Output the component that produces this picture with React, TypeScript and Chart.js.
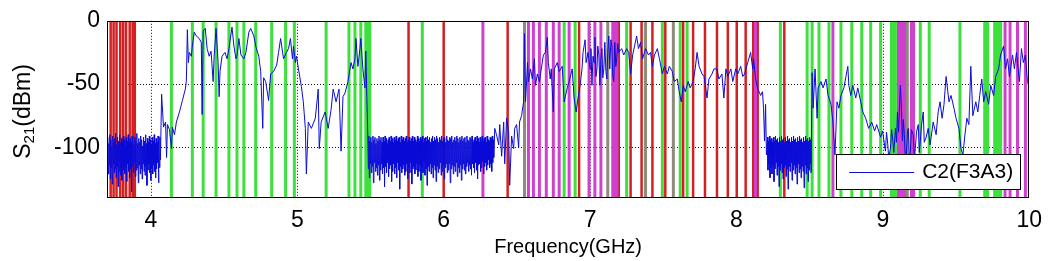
import React, { useEffect, useRef } from 'react';
import { Chart, registerables } from 'chart.js';

Chart.register(...registerables);

// ---- axes ----
const xMin = 3.7;
const xMax = 10;
const yMin = -140;
const yMax = 0;
const xTicks = [4, 5, 6, 7, 8, 9, 10];
const yTicks = [0, -50, -100];
const xTitle = 'Frequency(GHz)';
const yTitleMain = 'S';
const yTitleSub = '21';
const yTitleUnit = '(dBm)';
const traceLabel = 'C2(F3A3)';

// ---- vertical marker lines (GHz) ----
const redMarkers = [3.725, 3.745, 3.765, 3.79, 3.81, 3.83, 3.855, 3.875, 3.89, 5.76, 6.0, 6.437, 6.925, 7.196, 7.277, 7.352, 7.426, 7.514, 7.636, 7.704, 7.785, 7.867, 7.941, 8.002, 8.063, 8.115, 8.145, 8.327];
const greenMarkers = [4.14, 4.283, 4.357, 4.445, 4.533, 4.588, 4.635, 4.716, 4.825, 4.92, 4.98, 5.197, 5.353, 5.394, 5.434, 5.468, 5.482, 5.495, 5.854, 6.823, 6.898, 7.25, 7.494, 7.616, 7.663, 8.3, 8.483, 8.517, 8.564, 8.632, 8.714, 8.788, 8.856, 8.917, 8.985, 9.059, 9.073, 9.086, 9.256, 9.317, 9.527, 9.696, 9.716, 9.764, 9.778, 9.791, 9.805];
const magentaMarkers = [6.268, 6.579, 6.613, 6.654, 6.701, 6.749, 6.789, 6.857, 6.993, 7.033, 7.074, 7.155, 7.169, 7.183, 8.13, 8.659, 9.107, 9.12, 9.134, 9.148, 9.195, 9.21, 9.835, 9.869, 9.92, 9.974];
const grayMarkers = [6.552, 7.121, 7.379, 7.569, 9.167];

// ---- measured trace: noise floor bands (uniform sweep) ----
const noiseAStart = 3.70;
const noiseAEnd = 4.065;
const noiseALevels = [
  -95, -118, -92, -121, -97, -114, -90, -125, -94, -116, -99, -129, -91, -113, -96, -120, -93, -117, -89, -124,
  -98, -115, -92, -131, -95, -119, -90, -112, -97, -122, -93, -126, -96, -114, -91, -118, -94, -121, -99, -116,
  -92, -127, -95, -113, -90, -119, -97, -124, -93, -117, -96, -135, -91, -115, -94, -120, -98, -112, -92, -123,
  -95, -118, -89, -116, -97, -128, -93, -114, -96, -121, -91, -117, -94, -125, -99, -113, -92, -119, -95, -122,
  -90, -115, -97, -130, -93, -118, -96, -113, -91, -120, -94, -126, -98, -116, -92, -121, -95, -114, -90, -119,
  -97, -124, -93, -117, -96, -112, -91, -128, -94, -116, -92, -110,
];

const noiseBStart = 5.482;
const noiseBEnd = 6.342;
const noiseBLevels = [
  -93, -117, -91, -124, -95, -113, -92, -120, -96, -115,
  -91, -128, -94, -112, -92, -119, -97, -116, -93, -122,
  -95, -114, -91, -126, -94, -118, -92, -113, -96, -121,
  -92, -116, -95, -131, -91, -115, -93, -120, -97, -112,
  -94, -123, -92, -117, -95, -114, -91, -127, -93, -119,
  -96, -113, -92, -121, -94, -116, -91, -124, -95, -112,
  -93, -118, -92, -133, -96, -115, -91, -120, -94, -117,
  -92, -114, -95, -122, -93, -119, -91, -113, -96, -125,
  -94, -116, -92, -120, -95, -112, -93, -129, -91, -117,
  -95, -115, -92, -121, -94, -118, -96, -113, -91, -123,
  -93, -119, -95, -114, -92, -126, -94, -116, -91, -120,
  -96, -112, -93, -122, -92, -117, -95, -130, -91, -115,
  -94, -119, -92, -113, -96, -121, -93, -116, -91, -124,
  -95, -114, -92, -118, -94, -127, -91, -115, -93, -120,
  -96, -117, -92, -112, -94, -122, -91, -119, -95, -114,
  -93, -125, -92, -116, -96, -113, -91, -120, -94, -118,
  -95, -113, -92, -128, -93, -117, -91, -114, -96, -121,
  -94, -115, -92, -119, -95, -112, -91, -123, -93, -116,
  -96, -120, -92, -114, -94, -126, -91, -117, -95, -113,
  -93, -118, -92, -121, -96, -115, -91, -112, -94, -119,
  -95, -114, -92, -117, -93, -122, -91, -113, -96, -116,
  -94, -120, -92, -112, -95, -118, -91, -125, -93, -114,
  -96, -113, -92, -119, -94, -116, -91, -111, -95, -121,
  -93, -115, -92, -112, -96, -118, -91, -114, -94, -110,
  -95, -116, -92, -113, -93, -119, -91, -112, -94, -108,
];

const noiseCStart = 8.212;
const noiseCEnd = 8.51;
const noiseCLevels = [
  -92, -118, -95, -113, -91, -124, -94, -116, -93, -121,
  -96, -114, -92, -127, -95, -117, -91, -112, -94, -122,
  -93, -115, -96, -131, -92, -118, -95, -113, -91, -120,
  -94, -125, -93, -116, -96, -114, -92, -123, -95, -117,
  -91, -133, -94, -115, -93, -119, -96, -112, -92, -126,
  -95, -118, -91, -114, -94, -121, -93, -116, -96, -129,
  -92, -113, -95, -120, -91, -117, -94, -124, -93, -115,
  -96, -119, -92, -132, -95, -114, -91, -121, -94, -116,
  -93, -127, -95, -118, -92, -113, -94, -120,
];

// ---- measured trace: resolved segments [GHz, dBm] ----
const segment1: [number, number][] = [
  [4.073, -58], [4.086, -84], [4.1, -80], [4.107, -108], [4.113, -82], [4.127, -86], [4.14, -101], [4.147, -84],
  [4.161, -90], [4.174, -80], [4.195, -72], [4.215, -63], [4.235, -54], [4.242, -48], [4.249, -7], [4.256, -33],
  [4.262, -25], [4.276, -28], [4.283, -20], [4.296, -9], [4.31, -12], [4.33, -14], [4.344, -17], [4.35, -74],
  [4.357, -8], [4.371, -6], [4.384, -22], [4.398, -28], [4.411, -24], [4.425, -48], [4.432, -28], [4.445, -6],
  [4.459, -33], [4.466, -60], [4.472, -40], [4.486, -28], [4.506, -25], [4.52, -30], [4.533, -22], [4.554, -5],
  [4.567, -20], [4.581, -30], [4.588, -28], [4.601, -14], [4.615, -27], [4.635, -30], [4.649, -25], [4.669, -9],
  [4.682, -6], [4.689, -8], [4.703, -12], [4.716, -20], [4.737, -28], [4.75, -40], [4.764, -85], [4.77, -45],
  [4.784, -48], [4.804, -63], [4.818, -42], [4.838, -40], [4.859, -35], [4.872, -25], [4.886, -14], [4.906, -30],
  [4.926, -25], [4.94, -22], [4.953, -14], [4.967, -30], [4.974, -20], [4.987, -33], [4.994, -28], [5.008, -38],
  [5.028, -52], [5.041, -64], [5.055, -85], [5.062, -121], [5.075, -80], [5.096, -85], [5.123, -77], [5.143, -54],
  [5.15, -101], [5.163, -80], [5.19, -72], [5.211, -85], [5.231, -70], [5.245, -54], [5.265, -64], [5.285, -54],
  [5.299, -103], [5.312, -60], [5.326, -57], [5.346, -48], [5.367, -33], [5.38, -38], [5.394, -30], [5.401, -14],
  [5.414, -36], [5.428, -22], [5.434, -14], [5.448, -38], [5.462, -53], [5.468, -24], [5.475, -60],
];

const segment2: [number, number][] = [
  [6.349, -85], [6.363, -91], [6.376, -98], [6.383, -82], [6.396, -107], [6.41, -80], [6.417, -113], [6.43, -77],
  [6.444, -88], [6.451, -130], [6.464, -91], [6.478, -101], [6.485, -85], [6.498, -82], [6.512, -100], [6.518, -80],
  [6.532, -75], [6.546, -64], [6.552, -10], [6.559, -64], [6.573, -33], [6.579, -48], [6.593, -38], [6.606, -46],
  [6.62, -30], [6.627, -51], [6.64, -42], [6.654, -48], [6.667, -38], [6.681, -27], [6.695, -25], [6.708, -13],
  [6.715, -33], [6.728, -46], [6.735, -38], [6.749, -72], [6.756, -38], [6.776, -33], [6.789, -40], [6.81, -36],
  [6.823, -64], [6.844, -53], [6.857, -48], [6.878, -38], [6.891, -61], [6.905, -72], [6.918, -61], [6.932, -51],
  [6.945, -38], [6.952, -25], [6.966, -15], [6.973, -33], [6.986, -25],
  [7.0, -38], [7.006, -22], [7.013, -51], [7.02, -28], [7.027, -33], [7.033, -13], [7.04, -44], [7.047, -38],
  [7.053, -20], [7.06, -27], [7.067, -51], [7.074, -30], [7.081, -22], [7.087, -45], [7.094, -38], [7.101, -17],
  [7.108, -40], [7.115, -46], [7.121, -25], [7.128, -12], [7.135, -38], [7.142, -15], [7.149, -20], [7.155, -44],
  [7.162, -48], [7.169, -17], [7.176, -36], [7.182, -30], [7.189, -18], [7.196, -25],
  [7.216, -22], [7.23, -27], [7.25, -22], [7.264, -25], [7.277, -42], [7.291, -27], [7.304, -20], [7.318, -12],
  [7.331, -22], [7.345, -17], [7.359, -30], [7.379, -22], [7.399, -27], [7.413, -25], [7.426, -36], [7.44, -27],
  [7.46, -22], [7.474, -30], [7.494, -42], [7.508, -36], [7.528, -42], [7.541, -36], [7.562, -40], [7.575, -48],
  [7.596, -46], [7.609, -56], [7.623, -64], [7.636, -51], [7.65, -56], [7.67, -48], [7.684, -53], [7.704, -48],
  [7.718, -38], [7.731, -25], [7.745, -36], [7.765, -42], [7.779, -44], [7.799, -61], [7.812, -46], [7.833, -42],
  [7.846, -38], [7.867, -38], [7.88, -46], [7.901, -42], [7.914, -61], [7.928, -38], [7.941, -44], [7.962, -38],
  [7.975, -48], [7.995, -38], [8.009, -42], [8.029, -36], [8.043, -44], [8.056, -42], [8.077, -33], [8.097, -25],
  [8.111, -38], [8.117, -30], [8.131, -46], [8.144, -53], [8.165, -59], [8.178, -56], [8.185, -69], [8.192, -95],
  [8.199, -66], [8.205, -106],
];

const segment3: [number, number][] = [
  [8.517, -41], [8.524, -69], [8.537, -38], [8.551, -77], [8.558, -53], [8.578, -48], [8.592, -53], [8.612, -46],
  [8.626, -59], [8.646, -66], [8.659, -80], [8.673, -106], [8.687, -64], [8.7, -69], [8.714, -59], [8.734, -53],
  [8.748, -44], [8.761, -36], [8.768, -51], [8.781, -59], [8.795, -51], [8.815, -61], [8.829, -53], [8.849, -64],
  [8.863, -72], [8.883, -77], [8.903, -85], [8.924, -80], [8.944, -87], [8.958, -82], [8.985, -92], [8.998, -87],
  [9.018, -103], [9.025, -88], [9.032, -95], [9.04, -108], [9.052, -101], [9.06, -86], [9.066, -92], [9.075, -104],
  [9.086, -85], [9.093, -96], [9.1, -72], [9.107, -88], [9.12, -51], [9.127, -69], [9.134, -95], [9.14, -78],
  [9.147, -90], [9.154, -110], [9.161, -106], [9.168, -88], [9.174, -85], [9.181, -108], [9.188, -103], [9.195, -86],
  [9.208, -90], [9.215, -110], [9.222, -101], [9.23, -88], [9.242, -82], [9.249, -104], [9.256, -95], [9.263, -84],
  [9.276, -72], [9.283, -96], [9.296, -92], [9.31, -85], [9.323, -98], [9.344, -80], [9.364, -90], [9.378, -72],
  [9.391, -64], [9.405, -77], [9.418, -66], [9.432, -44], [9.452, -64], [9.466, -59], [9.486, -69], [9.5, -77],
  [9.52, -85], [9.534, -101], [9.547, -106], [9.561, -90], [9.574, -77], [9.588, -82], [9.601, -36], [9.615, -75],
  [9.635, -64], [9.649, -72], [9.662, -59], [9.676, -46], [9.689, -64], [9.703, -56], [9.723, -66], [9.737, -51],
  [9.757, -59], [9.771, -44], [9.791, -38], [9.804, -27], [9.825, -20], [9.838, -38], [9.852, -30], [9.865, -44],
  [9.886, -27], [9.899, -38], [9.913, -25], [9.933, -48], [9.947, -22], [9.96, -33], [9.974, -27], [9.988, -48],
  [10.0, -53],
];

// ---- colours ----
const traceColor = 'rgb(12,12,215)';
const redColor = '#d42020';
const greenColor = '#3ee03e';
const magentaColor = '#d040d0';
const grayColor = '#8c8c7c';
const fontFamily = 'Arial, "Liberation Sans", Helvetica, sans-serif';

type Pt = { x: number; y: number | null };

function sweep(from: number, to: number, levels: number[]): Pt[] {
  return levels.map((y, i) => ({ x: from + ((to - from) * i) / (levels.length - 1), y }));
}
function pairs(seg: [number, number][]): Pt[] {
  return seg.map(([x, y]) => ({ x, y }));
}
function markers(freqs: number[]): Pt[] {
  const out: Pt[] = [];
  for (const f of freqs) {
    out.push({ x: f, y: yMin }, { x: f, y: yMax }, { x: f, y: null });
  }
  return out;
}

const tracePoints: Pt[] = [
  ...sweep(noiseAStart, noiseAEnd, noiseALevels),
  ...pairs(segment1),
  ...sweep(noiseBStart, noiseBEnd, noiseBLevels),
  ...pairs(segment2),
  ...sweep(noiseCStart, noiseCEnd, noiseCLevels),
  ...pairs(segment3),
];

const framePlugin = {
  id: 'matlabFrame',
  beforeDatasetsDraw(chart: any) {
    const { ctx, chartArea: a, scales } = chart;
    ctx.save();
    ctx.strokeStyle = '#111';
    ctx.lineWidth = 1;
    ctx.setLineDash([1, 2]);
    for (const v of xTicks) {
      const px = Math.round(scales.x.getPixelForValue(v)) + 0.5;
      if (px <= a.left + 1 || px >= a.right - 1) continue;
      ctx.beginPath();
      ctx.moveTo(px, a.top);
      ctx.lineTo(px, a.bottom);
      ctx.stroke();
    }
    for (const v of yTicks) {
      const py = Math.round(scales.y.getPixelForValue(v)) + 0.5;
      if (py <= a.top + 1 || py >= a.bottom - 1) continue;
      ctx.beginPath();
      ctx.moveTo(a.left, py);
      ctx.lineTo(a.right, py);
      ctx.stroke();
    }
    ctx.restore();
  },
  afterDatasetsDraw(chart: any) {
    const { ctx, chartArea: a } = chart;
    ctx.save();
    // legend box
    const w = 184;
    const h = 35;
    const x0 = a.right - 9 - w;
    const y0 = a.bottom - 9 - h;
    ctx.fillStyle = '#fff';
    ctx.fillRect(x0, y0, w, h);
    ctx.strokeStyle = '#000';
    ctx.lineWidth = 1;
    ctx.setLineDash([]);
    ctx.strokeRect(Math.round(x0) + 0.5, Math.round(y0) + 0.5, w, h);
    const ds = chart.data.datasets[0];
    const ly = Math.round(y0 + h / 2) + 0.5;
    ctx.strokeStyle = ds.borderColor;
    ctx.beginPath();
    ctx.moveTo(x0 + 13, ly);
    ctx.lineTo(x0 + 78, ly);
    ctx.stroke();
    ctx.fillStyle = '#000';
    ctx.font = `21px ${fontFamily}`;
    ctx.textBaseline = 'middle';
    ctx.textAlign = 'left';
    ctx.fillText(ds.label, x0 + 86, y0 + h / 2 + 1);
    // axes box
    ctx.strokeStyle = '#000';
    ctx.strokeRect(Math.round(a.left) + 0.5, Math.round(a.top) + 0.5, Math.round(a.right - a.left) - 1, Math.round(a.bottom - a.top) - 1);
    ctx.restore();
  },
  afterDraw(chart: any) {
    const { ctx, chartArea: a } = chart;
    ctx.save();
    const cy = (a.top + a.bottom) / 2 + 2;
    ctx.translate(30, cy);
    ctx.rotate(-Math.PI / 2);
    ctx.fillStyle = '#000';
    ctx.textBaseline = 'alphabetic';
    ctx.textAlign = 'left';
    const mainFont = `23px ${fontFamily}`;
    const subFont = `15px ${fontFamily}`;
    ctx.font = mainFont;
    const wS = ctx.measureText(yTitleMain).width;
    const wU = ctx.measureText(yTitleUnit).width;
    ctx.font = subFont;
    const wSub = ctx.measureText(yTitleSub).width;
    const total = wS + wSub + wU;
    let x = -total / 2;
    ctx.font = mainFont;
    ctx.fillText(yTitleMain, x, 0);
    x += wS;
    ctx.font = subFont;
    ctx.fillText(yTitleSub, x, 4);
    x += wSub;
    ctx.font = mainFont;
    ctx.fillText(yTitleUnit, x, 0);
    ctx.restore();
  },
};

export default function App() {
  const canvasRef = useRef<HTMLCanvasElement | null>(null);

  useEffect(() => {
    const canvas = canvasRef.current;
    if (!canvas) return;
    const markerSet = (label: string, freqs: number[], color: string, width: number, order: number) => ({
      label,
      data: markers(freqs),
      borderColor: color,
      backgroundColor: color,
      borderWidth: width,
      borderCapStyle: 'butt' as const,
      pointRadius: 0,
      spanGaps: false,
      fill: false,
      order,
    });
    const chart = new Chart(canvas, {
      type: 'line',
      data: {
        datasets: [
          {
            label: traceLabel,
            data: tracePoints as any,
            borderColor: traceColor,
            backgroundColor: traceColor,
            borderWidth: 1,
            pointRadius: 0,
            tension: 0,
            fill: false,
            order: 0,
          },
          markerSet('gray', grayMarkers, grayColor, 3, 4),
          markerSet('red', redMarkers, redColor, 2.5, 3),
          markerSet('green', greenMarkers, greenColor, 3, 2),
          markerSet('magenta', magentaMarkers, magentaColor, 3, 1),
        ] as any,
      },
      options: {
        responsive: false,
        animation: false,
        devicePixelRatio: 1,
        events: [],
        layout: { padding: { top: 18, right: 14, left: 0, bottom: 0 } },
        plugins: {
          legend: { display: false },
          tooltip: { enabled: false },
          title: { display: false },
        },
        scales: {
          x: {
            type: 'linear',
            min: xMin,
            max: xMax,
            afterBuildTicks: (scale: any) => {
              scale.ticks = xTicks.map((value) => ({ value }));
            },
            afterFit: (scale: any) => {
              scale.height = 63;
            },
            grid: { display: false, drawTicks: false },
            border: { display: false },
            ticks: {
              padding: 9,
              color: '#000',
              font: { size: 23, family: fontFamily },
              maxRotation: 0,
              autoSkip: false,
              callback: (v: any) => String(v),
            },
            title: {
              display: true,
              text: xTitle,
              color: '#000',
              font: { size: 20, family: fontFamily },
              padding: { top: 0, bottom: 2 },
            },
          },
          y: {
            type: 'linear',
            min: yMin,
            max: yMax,
            afterBuildTicks: (scale: any) => {
              scale.ticks = yTicks.map((value) => ({ value }));
            },
            afterFit: (scale: any) => {
              scale.width = 107;
            },
            grid: { display: false, drawTicks: false },
            border: { display: false },
            ticks: {
              padding: 7,
              color: '#000',
              font: { size: 23, family: fontFamily },
              autoSkip: false,
              callback: (v: any) => String(v),
            },
          },
        },
      },
      plugins: [framePlugin],
    });
    return () => chart.destroy();
  }, []);

  return (
    <div style={{ position: 'absolute', left: 0, top: 0, width: 1051, height: 261, background: '#fff' }}>
      <canvas ref={canvasRef} width={1051} height={261} style={{ display: 'block', width: 1051, height: 261 }} />
    </div>
  );
}
